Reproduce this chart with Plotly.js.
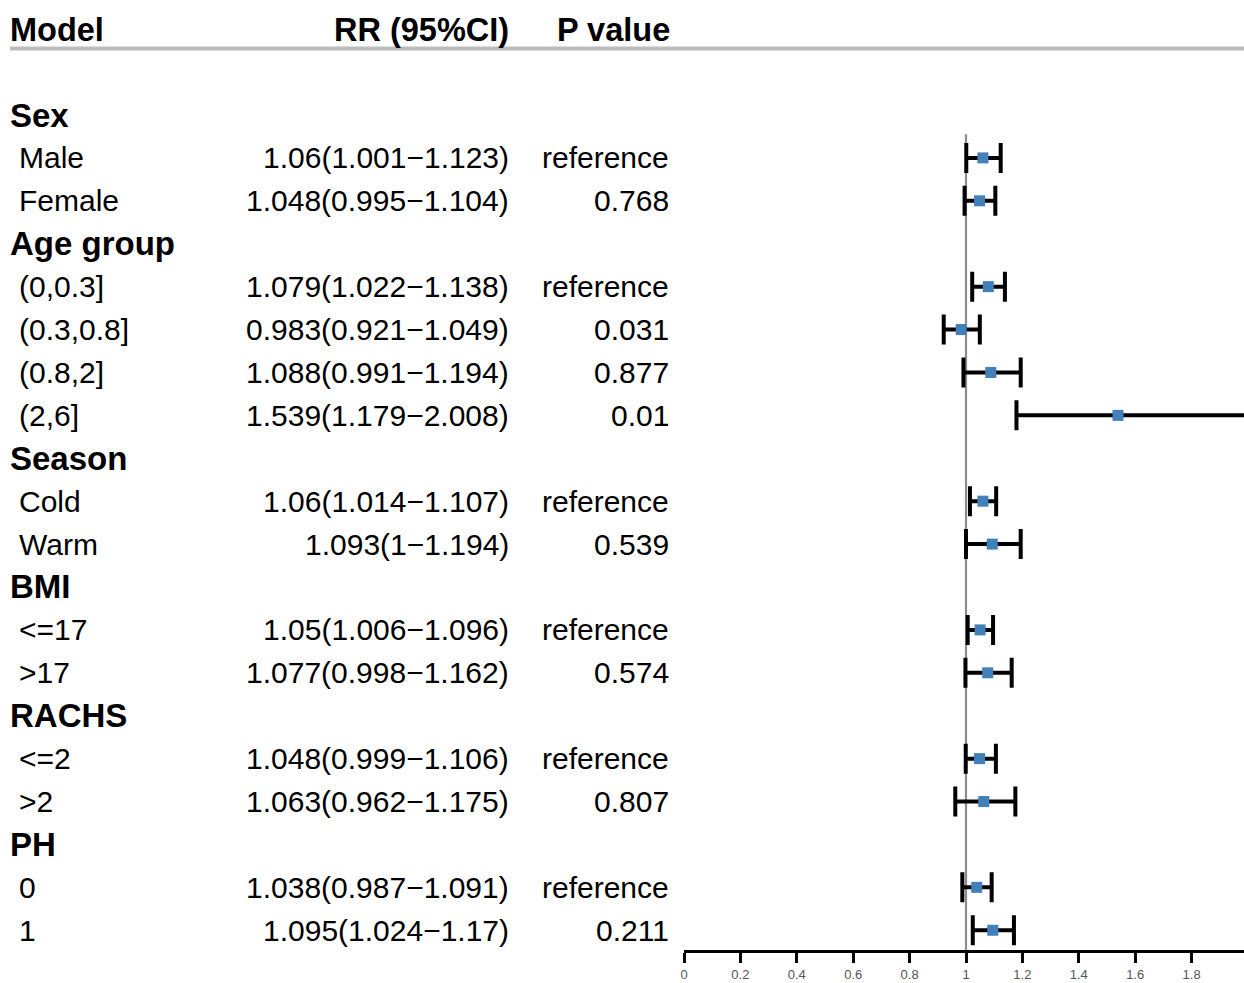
<!DOCTYPE html>
<html>
<head>
<meta charset="utf-8">
<script src="https://cdn.plot.ly/plotly-3.0.1.min.js"></script>
<style>html,body{margin:0;padding:0;background:#fff;}#chart{width:1244px;height:983px;}</style>
</head>
<body>
<div id="chart"></div>
<script>
// ---- data ----
const columnHeaders = ["Model", "RR (95%CI)", "P value"];
const groupNames = ["Sex", "Age group", "Season", "BMI", "RACHS", "PH"];
const subLabels = ["Male", "Female", "(0,0.3]", "(0.3,0.8]", "(0.8,2]", "(2,6]", "Cold", "Warm", "<=17", ">17", "<=2", ">2", "0", "1"];
const subGroup = [0, 0, 1, 1, 1, 1, 2, 2, 3, 3, 4, 4, 5, 5];
const rr = [1.06, 1.048, 1.079, 0.983, 1.088, 1.539, 1.06, 1.093, 1.05, 1.077, 1.048, 1.063, 1.038, 1.095];
const lower = [1.001, 0.995, 1.022, 0.921, 0.991, 1.179, 1.014, 1, 1.006, 0.998, 0.999, 0.962, 0.987, 1.024];
const upper = [1.123, 1.104, 1.138, 1.049, 1.194, 2.008, 1.107, 1.194, 1.096, 1.162, 1.106, 1.175, 1.091, 1.17];
const pValues = ["reference", "0.768", "reference", "0.031", "0.877", "0.01", "reference", "0.539", "reference", "0.574", "reference", "0.807", "reference", "0.211"];
const xTickVals = [0, 0.2, 0.4, 0.6, 0.8, 1, 1.2, 1.4, 1.6, 1.8, 2];
const xTickText = ["0", "0.2", "0.4", "0.6", "0.8", "1", "1.2", "1.4", "1.6", "1.8", "2"];

// ---- row layout ----
const W = 1244, H = 983;
const groupRow = [];
const subRow = [];
let r = 0;
groupNames.forEach((g, gi) => {
  groupRow.push(r); r++;
  subGroup.forEach((sg, si) => { if (sg === gi) { subRow[si] = r; r++; } });
});

const FONT = "Liberation Sans, Arial, Helvetica, sans-serif";
const px = v => v / W;
const esc = s => s.replace(/&/g, '&amp;').replace(/</g, '&lt;').replace(/>/g, '&gt;');
const annotations = [];
const hdrY = -1.98;
const HDR = {family: FONT, size: 32.5, color: '#000'};
const BODY = {family: FONT, size: 30, color: '#000'};
annotations.push({xref: 'paper', yref: 'y', x: px(8), y: hdrY, xanchor: 'left', yanchor: 'middle', text: '<b>' + columnHeaders[0] + '</b>', showarrow: false, font: HDR});
annotations.push({xref: 'paper', yref: 'y', x: px(511), y: hdrY, xanchor: 'right', yanchor: 'middle', text: '<b>' + columnHeaders[1] + '</b>', showarrow: false, font: HDR});
annotations.push({xref: 'paper', yref: 'y', x: px(672), y: hdrY, xanchor: 'right', yanchor: 'middle', text: '<b>' + columnHeaders[2] + '</b>', showarrow: false, font: HDR});

groupNames.forEach((g, gi) => {
  annotations.push({xref: 'paper', yref: 'y', x: px(8), y: groupRow[gi], xanchor: 'left', yanchor: 'middle', text: '<b>' + esc(g) + '</b>', showarrow: false, font: {family: FONT, size: 33, color: '#000'}});
});
subLabels.forEach((s, i) => {
  annotations.push({xref: 'paper', yref: 'y', x: px(17), y: subRow[i], xanchor: 'left', yanchor: 'middle', text: esc(s), showarrow: false, font: BODY});
  annotations.push({xref: 'paper', yref: 'y', x: px(511), y: subRow[i], xanchor: 'right', yanchor: 'middle', text: rr[i] + '(' + lower[i] + '\u2212' + upper[i] + ')', showarrow: false, font: BODY});
  annotations.push({xref: 'paper', yref: 'y', x: px(671), y: subRow[i], xanchor: 'right', yanchor: 'middle', text: pValues[i], showarrow: false, font: BODY});
});

const trace = {
  type: 'scatter', mode: 'markers',
  x: rr, y: subRow,
  marker: {symbol: 'square', size: 11, color: '#4280BA', line: {width: 0}},
  error_x: {type: 'data', symmetric: false,
    array: rr.map((v, i) => upper[i] - v),
    arrayminus: rr.map((v, i) => v - lower[i]),
    color: '#000', thickness: 4, width: 15},
  hoverinfo: 'skip', cliponaxis: true
};

const xMax = (W - 684) / 282;
const layout = {
  width: W, height: H,
  margin: {l: 0, r: 0, t: 0, b: 0, pad: 0},
  paper_bgcolor: '#fff', plot_bgcolor: '#fff',
  showlegend: false,
  xaxis: {domain: [684 / W, 1], range: [0, xMax], showgrid: false, zeroline: false,
    showline: true, linecolor: '#000', linewidth: 3,
    ticks: 'outside', ticklen: 10, tickwidth: 3, tickcolor: '#000',
    tickvals: xTickVals, ticktext: xTickText, ticklabelstandoff: 0,
    tickfont: {family: FONT, size: 13, color: '#555'}, fixedrange: true},
  yaxis: {domain: [(H - 950) / H, 1], range: [19.46, -2.68], showgrid: false, zeroline: false,
    showline: false, showticklabels: false, ticks: '', fixedrange: true},
  shapes: [
    {type: 'line', xref: 'paper', yref: 'y', x0: px(10), x1: 1, y0: -1.55, y1: -1.55, line: {color: '#BDBDBD', width: 4}},
    {type: 'line', xref: 'x', yref: 'y', x0: 1, x1: 1, y0: 0.45, y1: 19.46, line: {color: '#8C8C8C', width: 2.2}, layer: 'below'}
  ],
  annotations: annotations
};

Plotly.newPlot('chart', [trace], layout, {displayModeBar: false, staticPlot: true});
</script>
</body>
</html>
